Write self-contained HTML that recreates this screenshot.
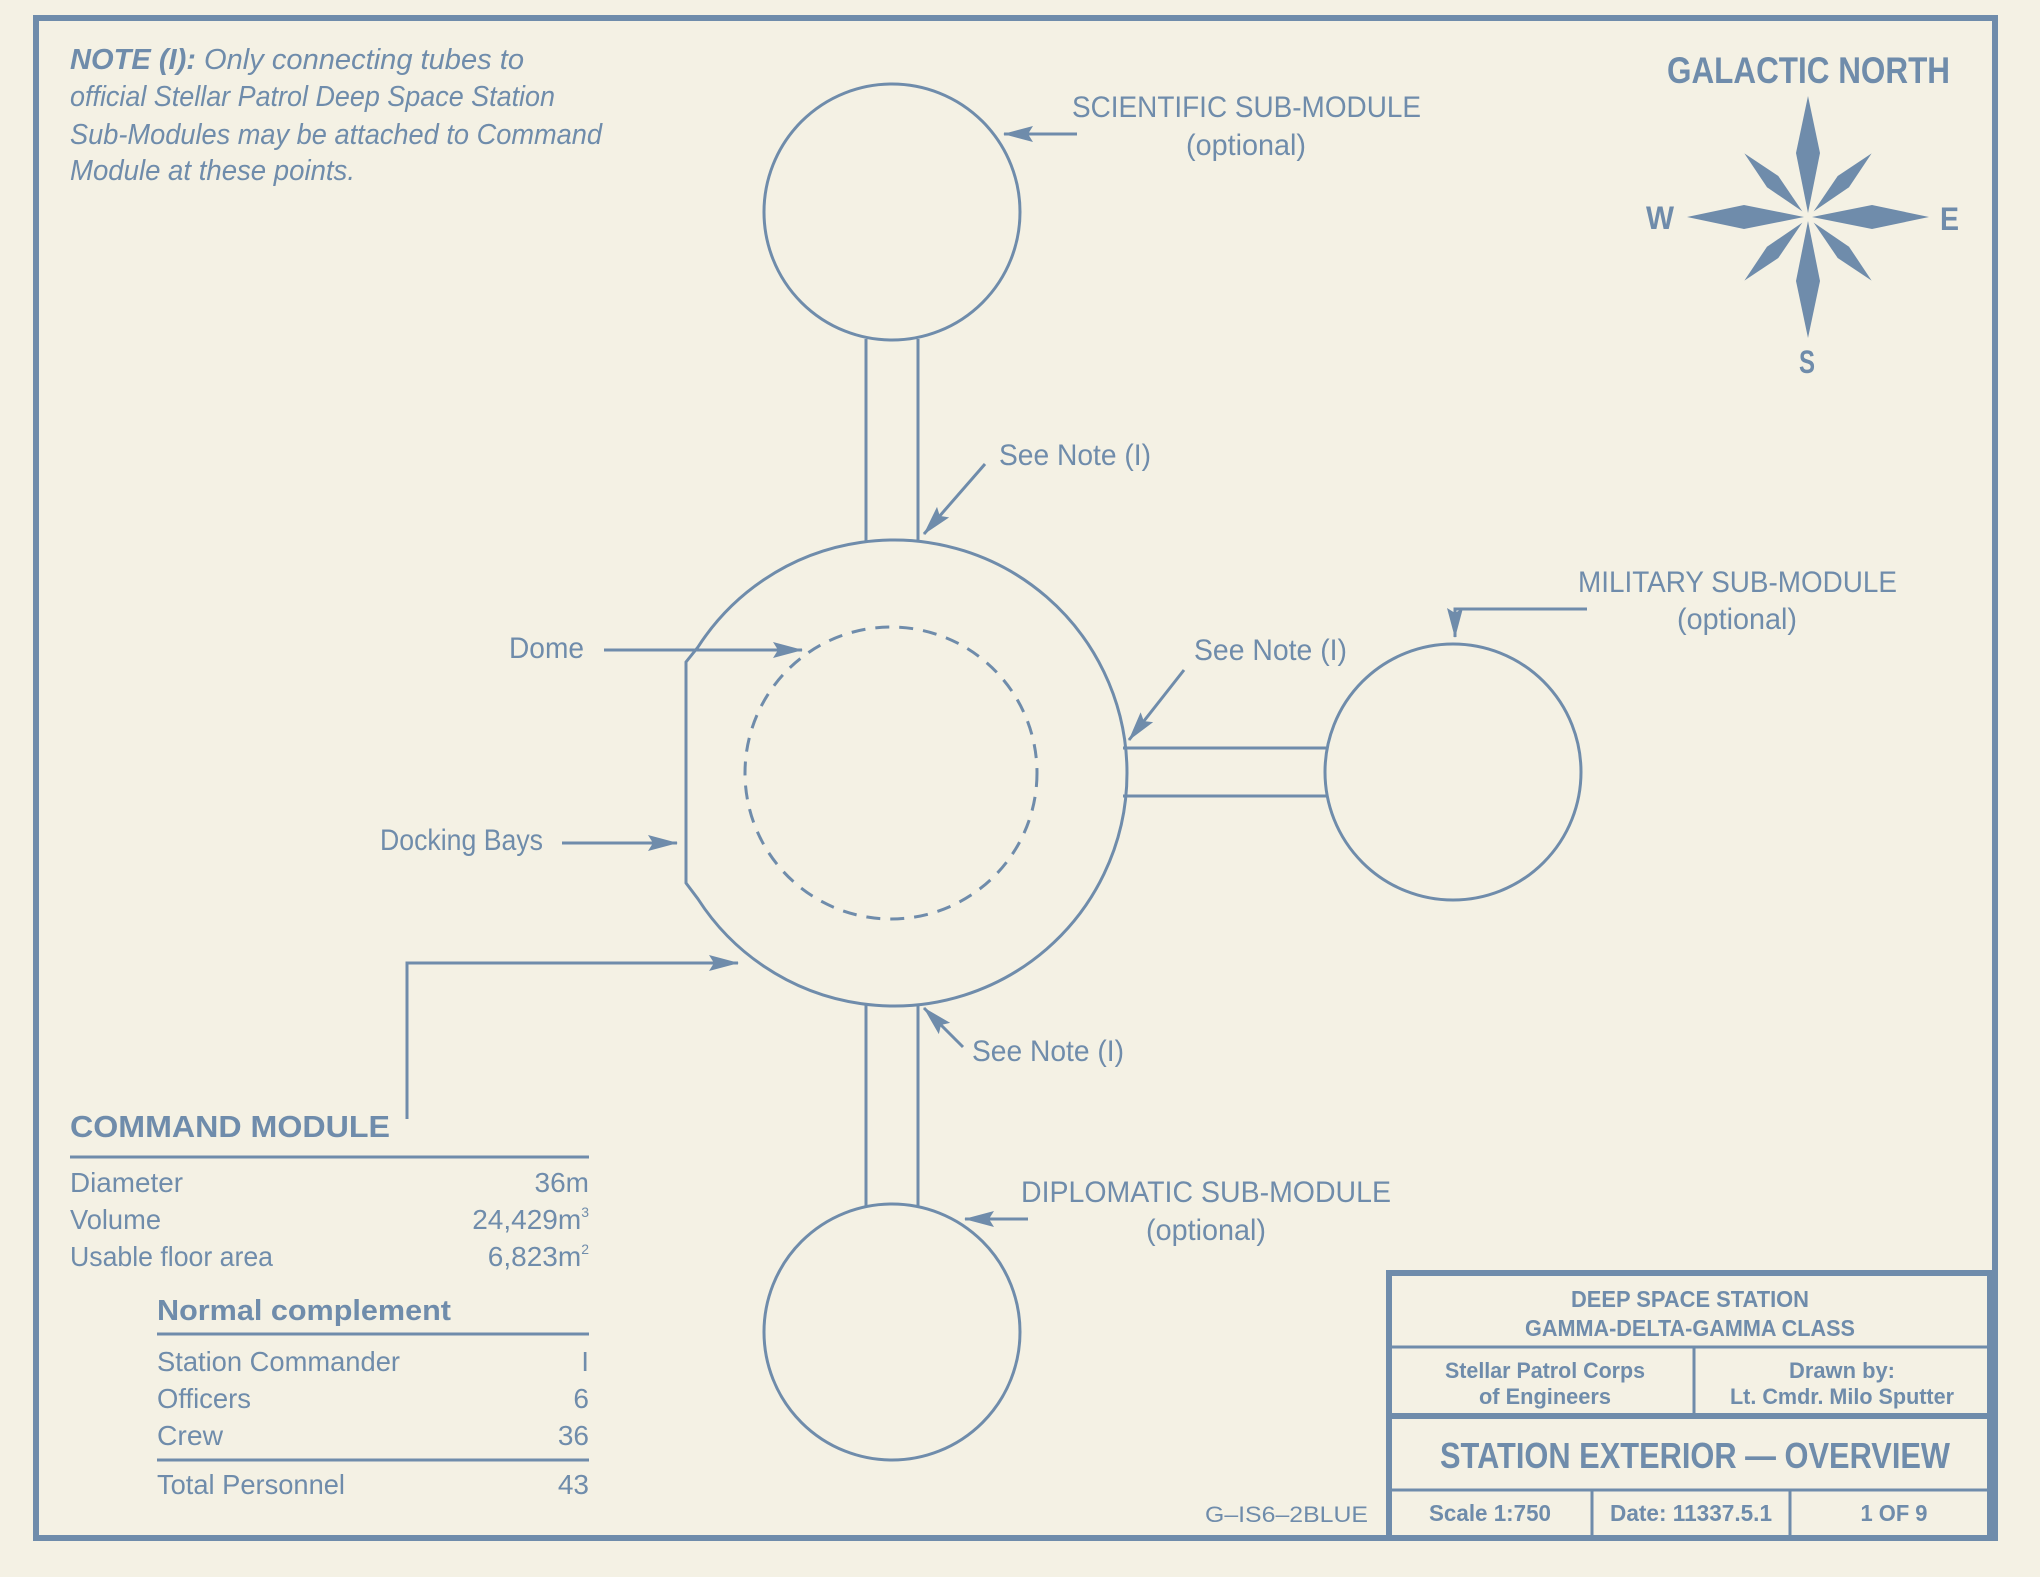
<!DOCTYPE html>
<html><head><meta charset="utf-8"><style>
html,body{margin:0;padding:0;background:#f4f1e4;}
svg{display:block;}
text{font-family:"Liberation Sans",sans-serif;fill:#6f8cab;}
</style></head><body>
<svg width="2040" height="1577" viewBox="0 0 2040 1577" xmlns="http://www.w3.org/2000/svg">
<defs>
<marker id="ah" viewBox="0 0 30 16" refX="29" refY="8" markerWidth="30" markerHeight="16" markerUnits="userSpaceOnUse" orient="auto">
<path d="M0,0 L30,8 L0,16 L5,8 Z" fill="#6f8cab"/></marker>
</defs>
<rect width="2040" height="1577" fill="#f4f1e4"/>
<g fill="none" stroke="#6f8cab">
<rect x="36" y="18" width="1959" height="1520" stroke-width="6"/>
<rect x="1389" y="1273" width="601" height="265" stroke-width="6"/>
<line x1="1389" y1="1347" x2="1990" y2="1347" stroke-width="3"/>
<line x1="1389" y1="1416" x2="1990" y2="1416" stroke-width="6"/>
<line x1="1389" y1="1490" x2="1990" y2="1490" stroke-width="3"/>
<line x1="1694" y1="1347" x2="1694" y2="1416" stroke-width="3"/>
<line x1="1592" y1="1490" x2="1592" y2="1538" stroke-width="3"/>
<line x1="1790" y1="1490" x2="1790" y2="1538" stroke-width="3"/>

<g stroke-width="3">
<line x1="866" y1="339" x2="866" y2="541"/><line x1="918" y1="339" x2="918" y2="541"/>
<line x1="866" y1="1005" x2="866" y2="1206"/><line x1="918" y1="1005" x2="918" y2="1206"/>
<line x1="1123" y1="748" x2="1326" y2="748"/><line x1="1123" y1="796" x2="1326" y2="796"/>
<circle cx="892" cy="212" r="128"/>
<circle cx="892" cy="1332" r="128"/>
<circle cx="1453" cy="772" r="128"/>
<path d="M 698 647 A 233 233 0 1 1 698 899 L 686 883 L 686 662 Z"/>
<circle cx="891" cy="773" r="146" stroke-dasharray="14 10"/>
<line x1="1077" y1="134" x2="1004" y2="134" marker-end="url(#ah)"/>
<line x1="985" y1="464" x2="924" y2="534" marker-end="url(#ah)"/>
<polyline points="1587,609 1455,609 1455,637" marker-end="url(#ah)"/>
<line x1="1184" y1="670" x2="1129" y2="740" marker-end="url(#ah)"/>
<line x1="604" y1="650" x2="802" y2="650" marker-end="url(#ah)"/>
<line x1="562" y1="843" x2="677" y2="843" marker-end="url(#ah)"/>
<polyline points="407,1119 407,963 738,963" marker-end="url(#ah)"/>
<line x1="963" y1="1047" x2="924" y2="1008" marker-end="url(#ah)"/>
<line x1="1028" y1="1219" x2="965" y2="1219" marker-end="url(#ah)"/>
<line x1="70" y1="1157" x2="589" y2="1157"/>
<line x1="157" y1="1334" x2="589" y2="1334"/>
<line x1="157" y1="1460" x2="589" y2="1460"/>
</g>
</g>

<g fill="#6f8cab" transform="translate(1808,217)">
<g id="lr"><polygon points="0,-4 -12,-64 0,-121 12,-64"/></g>
<use href="#lr" transform="rotate(90)"/><use href="#lr" transform="rotate(180)"/><use href="#lr" transform="rotate(270)"/>
<g id="sr" transform="rotate(45)"><polygon points="0,-8 -8,-50 0,-90 8,-50"/></g>
<use href="#sr" transform="rotate(90)"/><use href="#sr" transform="rotate(180)"/><use href="#sr" transform="rotate(270)"/>
</g>
<g font-weight="bold">
<text x="1667" y="83" font-size="37" textLength="283" lengthAdjust="spacingAndGlyphs">GALACTIC NORTH</text>
<text x="1646" y="229" font-size="32" textLength="28" lengthAdjust="spacingAndGlyphs">W</text>
<text x="1940" y="230" font-size="32" textLength="19" lengthAdjust="spacingAndGlyphs">E</text>
<text x="1799" y="373" font-size="32" textLength="16" lengthAdjust="spacingAndGlyphs">S</text>
</g>

<g font-size="29" font-style="italic">
<text x="70" y="69" textLength="454" lengthAdjust="spacingAndGlyphs"><tspan font-weight="bold">NOTE (I):</tspan> Only connecting tubes to</text>
<text x="70" y="106" textLength="485" lengthAdjust="spacingAndGlyphs">official Stellar Patrol Deep Space Station</text>
<text x="70" y="144" textLength="532" lengthAdjust="spacingAndGlyphs">Sub-Modules may be attached to Command</text>
<text x="70" y="180" textLength="285" lengthAdjust="spacingAndGlyphs">Module at these points.</text>
</g>

<g font-size="30">
<text x="1072" y="117" textLength="349" lengthAdjust="spacingAndGlyphs">SCIENTIFIC SUB-MODULE</text>
<text x="1246" y="155" text-anchor="middle" textLength="120" lengthAdjust="spacingAndGlyphs">(optional)</text>
<text x="999" y="465" textLength="152" lengthAdjust="spacingAndGlyphs">See Note (I)</text>
<text x="1578" y="592" textLength="319" lengthAdjust="spacingAndGlyphs">MILITARY SUB-MODULE</text>
<text x="1737" y="629" text-anchor="middle" textLength="120" lengthAdjust="spacingAndGlyphs">(optional)</text>
<text x="1194" y="660" textLength="153" lengthAdjust="spacingAndGlyphs">See Note (I)</text>
<text x="509" y="658" textLength="75" lengthAdjust="spacingAndGlyphs">Dome</text>
<text x="380" y="850" textLength="163" lengthAdjust="spacingAndGlyphs">Docking Bays</text>
<text x="972" y="1061" textLength="152" lengthAdjust="spacingAndGlyphs">See Note (I)</text>
<text x="1021" y="1202" textLength="370" lengthAdjust="spacingAndGlyphs">DIPLOMATIC SUB-MODULE</text>
<text x="1206" y="1240" text-anchor="middle" textLength="120" lengthAdjust="spacingAndGlyphs">(optional)</text>
</g>

<text x="70" y="1137" font-size="31" font-weight="bold" textLength="320" lengthAdjust="spacingAndGlyphs">COMMAND MODULE</text>
<g font-size="28">
<text x="70" y="1192" textLength="113" lengthAdjust="spacingAndGlyphs">Diameter</text>
<text x="589" y="1192" text-anchor="end">36m</text>
<text x="70" y="1229" textLength="91" lengthAdjust="spacingAndGlyphs">Volume</text>
<text x="589" y="1229" text-anchor="end">24,429m<tspan font-size="14" dy="-12">3</tspan></text>
<text x="70" y="1266" textLength="203" lengthAdjust="spacingAndGlyphs">Usable floor area</text>
<text x="589" y="1266" text-anchor="end">6,823m<tspan font-size="14" dy="-12">2</tspan></text>
<text x="157" y="1320" font-weight="bold" font-size="29" textLength="294" lengthAdjust="spacingAndGlyphs">Normal complement</text>
<text x="157" y="1371" textLength="243" lengthAdjust="spacingAndGlyphs">Station Commander</text>
<text x="589" y="1371" text-anchor="end">I</text>
<text x="157" y="1408" textLength="94" lengthAdjust="spacingAndGlyphs">Officers</text>
<text x="589" y="1408" text-anchor="end">6</text>
<text x="157" y="1445" textLength="66" lengthAdjust="spacingAndGlyphs">Crew</text>
<text x="589" y="1445" text-anchor="end">36</text>
<text x="157" y="1494" textLength="188" lengthAdjust="spacingAndGlyphs">Total Personnel</text>
<text x="589" y="1494" text-anchor="end">43</text>
</g>

<g text-anchor="middle" font-weight="bold">
<text x="1690" y="1307" font-size="23" textLength="238" lengthAdjust="spacingAndGlyphs">DEEP SPACE STATION</text>
<text x="1690" y="1336" font-size="23" textLength="330" lengthAdjust="spacingAndGlyphs">GAMMA-DELTA-GAMMA CLASS</text>
<text x="1545" y="1378" font-size="22" textLength="200" lengthAdjust="spacingAndGlyphs">Stellar Patrol Corps</text>
<text x="1545" y="1404" font-size="22" textLength="132" lengthAdjust="spacingAndGlyphs">of Engineers</text>
<text x="1842" y="1378" font-size="22" textLength="106" lengthAdjust="spacingAndGlyphs">Drawn by:</text>
<text x="1842" y="1404" font-size="22" textLength="224" lengthAdjust="spacingAndGlyphs">Lt. Cmdr. Milo Sputter</text>
<text x="1695" y="1468" font-size="36" textLength="510" lengthAdjust="spacingAndGlyphs">STATION EXTERIOR — OVERVIEW</text>
<text x="1490" y="1521" font-size="23" textLength="122" lengthAdjust="spacingAndGlyphs">Scale 1:750</text>
<text x="1691" y="1521" font-size="23" textLength="162" lengthAdjust="spacingAndGlyphs">Date: 11337.5.1</text>
<text x="1894" y="1521" font-size="23" textLength="67" lengthAdjust="spacingAndGlyphs">1 OF 9</text>
</g>
<text x="1205" y="1522" font-size="22" textLength="163" lengthAdjust="spacingAndGlyphs">G–IS6–2BLUE</text>
</svg>
</body></html>
